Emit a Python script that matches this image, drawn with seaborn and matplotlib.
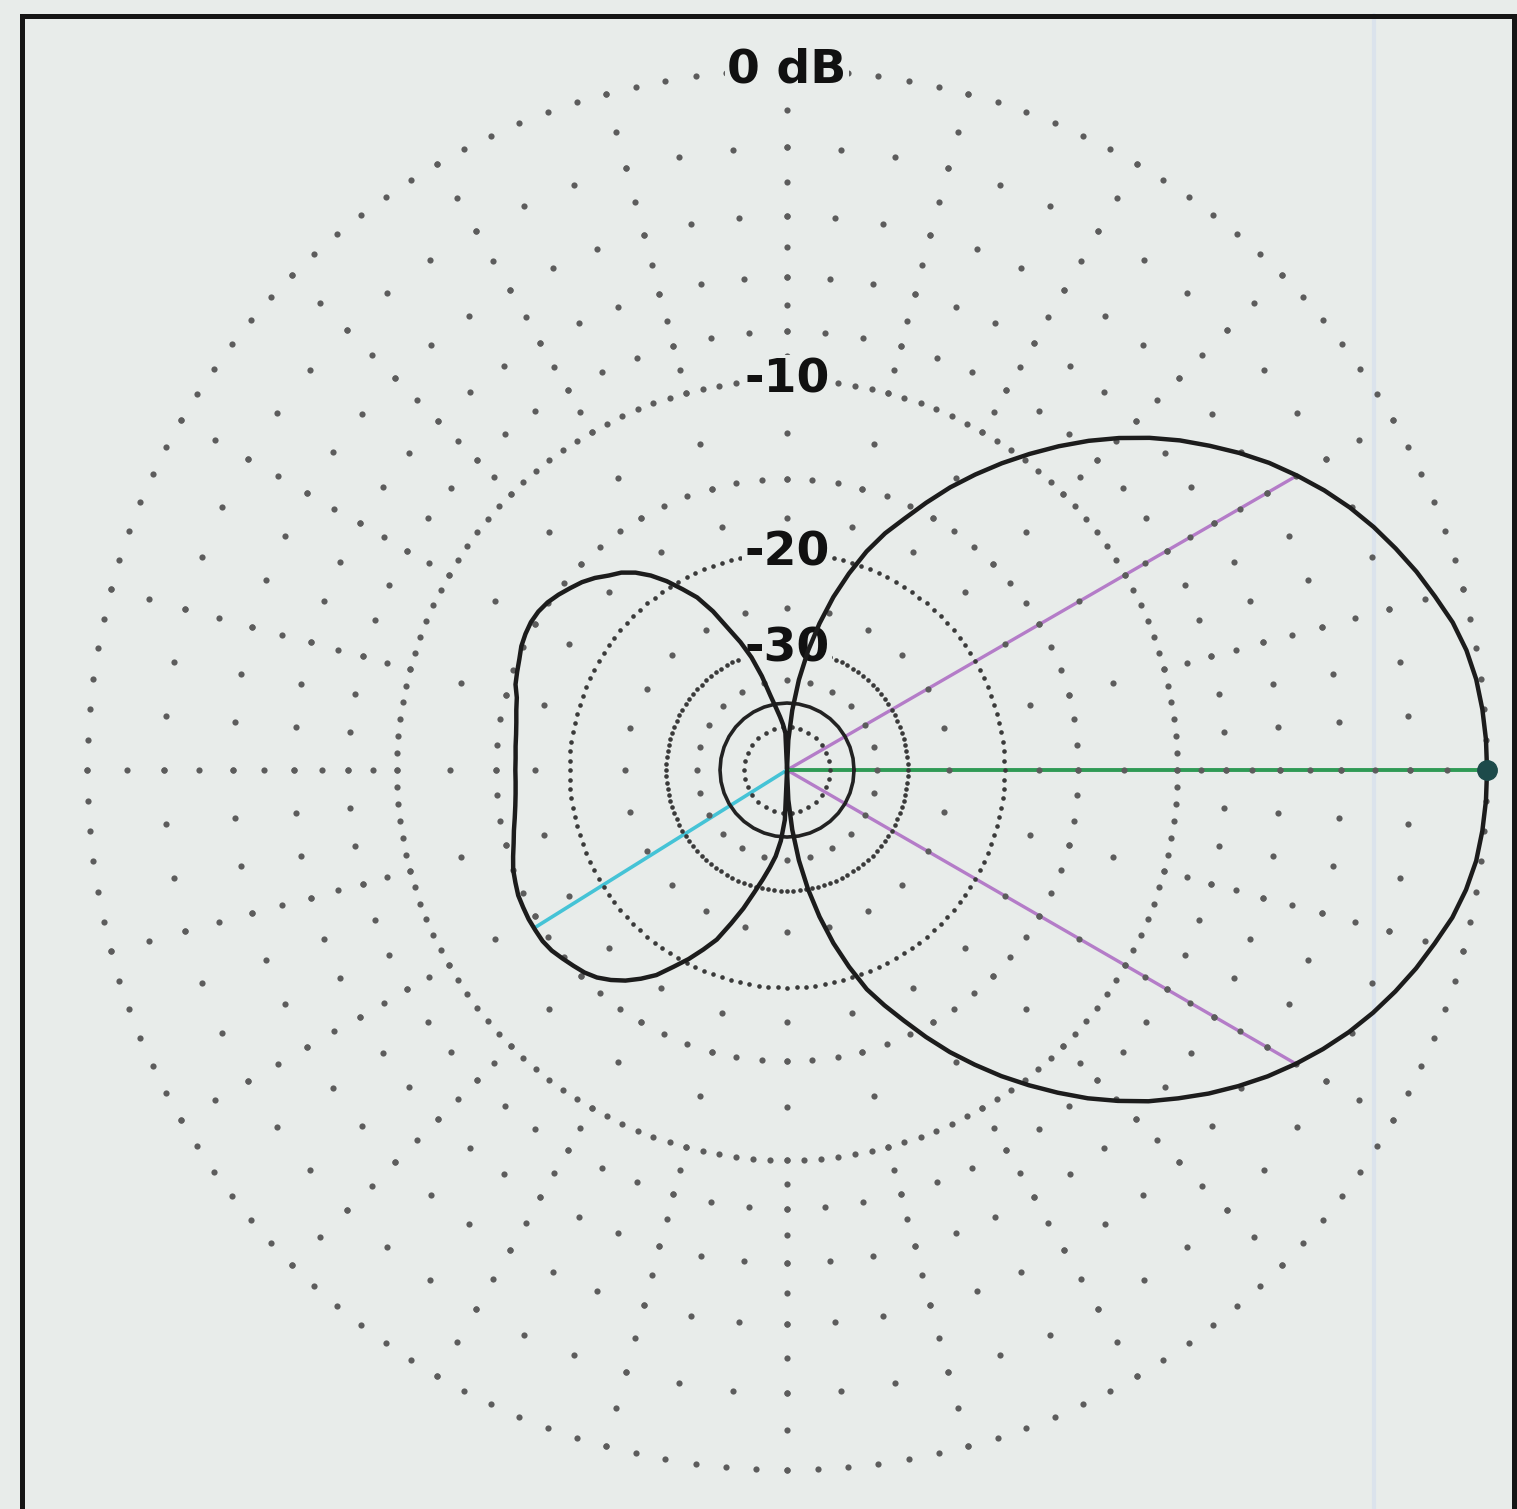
import numpy as np
import matplotlib
matplotlib.use("Agg")
import matplotlib.pyplot as plt
import seaborn as sns
from matplotlib.patches import Rectangle
from matplotlib.lines import Line2D

# Azimuth pattern every 2.5 deg (0 deg = boresight, counter-clockwise)
azimuth_deg = [
    0, 2.5, 5, 7.5, 10, 12.5, 15, 17.5, 20, 22.5, 25, 27.5, 30, 32.5, 35, 37.5, 40, 42.5,
    45, 47.5, 50, 52.5, 55, 57.5, 60, 62.5, 65, 67.5, 70, 72.5, 75, 77.5, 80, 82.5, 85, 87.5,
    90, 92.5, 95, 97.5, 100, 102.5, 105, 107.5, 110, 112.5, 115, 117.5, 120, 122.5, 125, 127.5, 130, 132.5,
    135, 137.5, 140, 142.5, 145, 147.5, 150, 152.5, 155, 157.5, 160, 162.5, 165, 167.5, 170, 172.5, 175, 177.5,
    180, 182.5, 185, 187.5, 190, 192.5, 195, 197.5, 200, 202.5, 205, 207.5, 210, 212.5, 215, 217.5, 220, 222.5,
    225, 227.5, 230, 232.5, 235, 237.5, 240, 242.5, 245, 247.5, 250, 252.5, 255, 257.5, 260, 262.5, 265, 267.5,
    270, 272.5, 275, 277.5, 280, 282.5, 285, 287.5, 290, 292.5, 295, 297.5, 300, 302.5, 305, 307.5, 310, 312.5,
    315, 317.5, 320, 322.5, 325, 327.5, 330, 332.5, 335, 337.5, 340, 342.5, 345, 347.5, 350, 352.5, 355, 357.5,
    360]
gain_db = [
    0.0, -0.01, -0.05, -0.12, -0.25, -0.45, -0.73, -1.01, -1.33, -1.67, -2.05, -2.48, -2.96, -3.47, -4.05, -4.68, -5.33, -6.05,
    -6.84, -7.70, -8.64, -9.65, -10.71, -11.85, -13.06, -14.43, -15.86, -17.2, -18.85, -20.92, -23.31, -26.31, -29.97, -34.82, -41.88, -53.5,
    -100.0, -50.0, -46.4, -43.7, -41.0, -37.9, -33.7, -30.4, -28.0, -26.0, -23.7, -21.9, -20.7, -19.5, -18.5, -17.7, -17.1, -16.7,
    -16.2, -15.8, -15.5, -15.2, -14.95, -14.8, -14.75, -14.8, -14.9, -15.1, -15.25, -15.4, -15.7, -15.85, -16.0, -16.1, -16.15, -16.2,
    -16.2, -16.2, -16.15, -16.05, -15.9, -15.7, -15.5, -15.25, -15.0, -14.85, -14.7, -14.65, -14.6, -14.6, -14.6, -14.7, -14.9, -15.1,
    -15.3, -15.6, -16.05, -16.6, -17.3, -18.1, -19.25, -20.35, -21.6, -22.9, -24.9, -26.9, -29.2, -31.3, -33.4, -35.6, -39.0, -45.0,
    -100.0, -53.5, -41.9, -34.8, -30.0, -26.3, -23.3, -20.9, -18.8, -17.3, -15.9, -14.45, -13.1, -11.9, -10.75, -9.7, -8.7, -7.75,
    -6.9, -6.1, -5.4, -4.72, -4.1, -3.52, -3.0, -2.52, -2.08, -1.69, -1.34, -1.02, -0.74, -0.46, -0.26, -0.12, -0.05, -0.01,
    0.0]

# marker lines: half-power points, peak and worst rear lobe
beam_az = [30, 330]
beam_db = [-3.0, -3.0]
peak_az = 0
peak_db = 0.0
rear_az = 212
rear_db = -14.6

ring_labels = ["0 dB", "-10", "-20", "-30"]
ring_label_db = [0, -10, -20, -30]

FLOOR_DB = -100.0   # deep null, drawn at the centre
BG = "#e8ecea"


def to_radius(db):
    # ARRL log-periodic scale: every 2 dB the radius shrinks by 0.89
    return 0.89 ** (-np.asarray(db, dtype=float) / 2.0)


def from_radius(r):
    return -2.0 * np.log(np.asarray(r, dtype=float)) / np.log(0.89)


sns.set_style("white")
plt.rcParams["font.family"] = ["DejaVu Sans"]

fig = plt.figure(figsize=(15.17, 15.09), dpi=100, facecolor=BG)
ax = fig.add_axes([0.05735, 0.0258, 0.9229, 0.9278], projection="polar")
ax.set_facecolor("none")
ax.set_rscale("function", functions=(to_radius, from_radius))

# ---- dotted grid (ARRL style) ----
dot_th = []
dot_r = []
# main rings 0 and -10 dB, dots every 2.5 deg
for db in [0, -10]:
    th = np.arange(0, 360, 2.5)
    dot_th += list(th)
    dot_r += [db] * len(th)
# minor rings, dots every 5 deg
for db in [-2, -4, -6, -8, -15]:
    th = np.arange(0, 360, 5)
    dot_th += list(th)
    dot_r += [db] * len(th)
# radials every 15 deg
radial_levels = list(range(0, -11, -1)) + [-12.5, -15, -17.5, -25, -35]
for a in range(0, 360, 15):
    dot_th += [a] * len(radial_levels)
    dot_r += radial_levels
ax.scatter(np.radians(dot_th), dot_r, s=20, c="#5c5c5c", linewidths=0, zorder=3, clip_on=False)

# dense inner rings
for db, step in [(-20, 2.5), (-30, 3.0), (-47.5, 12.0)]:
    th = np.arange(0, 360, step)
    ax.scatter(np.radians(th), [db] * len(th), s=11, c="#3a3a3a", linewidths=0, zorder=3)

# solid -40 dB ring
th = np.radians(np.arange(0, 361, 10))
ax.plot(th, [-40] * len(th), color="#222222", lw=2.6, zorder=4)

# ---- marker lines from the centre ----
for a, db in zip(beam_az, beam_db):
    sns.lineplot(x=np.radians([a, a]), y=[FLOOR_DB, db], ax=ax, color="#b47cc8",
                 lw=2.4, sort=False, estimator=None, zorder=2)
sns.lineplot(x=np.radians([rear_az, rear_az]), y=[FLOOR_DB, rear_db], ax=ax, color="#45c3d6",
             lw=2.6, sort=False, estimator=None, zorder=2)
sns.lineplot(x=np.radians([peak_az, peak_az]), y=[FLOOR_DB, peak_db], ax=ax, color="#2f9a55",
             lw=2.8, sort=False, estimator=None, zorder=2)
ax.plot(np.radians(peak_az), peak_db, "o", ms=14, color="#1d4a4a", zorder=6, clip_on=False)

# ---- ring labels ----
for lab, db in zip(ring_labels, ring_label_db):
    ax.text(np.pi / 2, db, lab, ha="center", va="center", fontsize=34, fontweight="bold",
            color="#111111", zorder=4,
            bbox=dict(boxstyle="square,pad=0.05", fc=BG, ec="none"))

# ---- antenna pattern ----
sns.lineplot(x=np.radians(azimuth_deg), y=gain_db, ax=ax, color="#1c1c1c", lw=3.2,
             sort=False, estimator=None, zorder=5)
for line in ax.get_lines():
    line.set_clip_on(False)
    line.set_solid_joinstyle("round")

# lower limit a bit below the null value so the nulls land on the centre
ax.set_rlim(-110, 0)
ax.set_xticks([])
ax.set_yticks([])
ax.grid(False)
ax.spines["polar"].set_visible(False)
ax.set_xlabel("")
ax.set_ylabel("")

# scanner streak and picture frame
fig.add_artist(Line2D([0.9055, 0.9055], [0.0, 0.99], transform=fig.transFigure,
                      color="#dbe3ec", lw=3, zorder=0))
fig.add_artist(Rectangle((0.0145, -0.05), 0.9835, 1.0395, transform=fig.transFigure,
                         fill=False, lw=3.6, ec="#151515"))

fig.savefig("out.png", dpi=100, facecolor=BG)
